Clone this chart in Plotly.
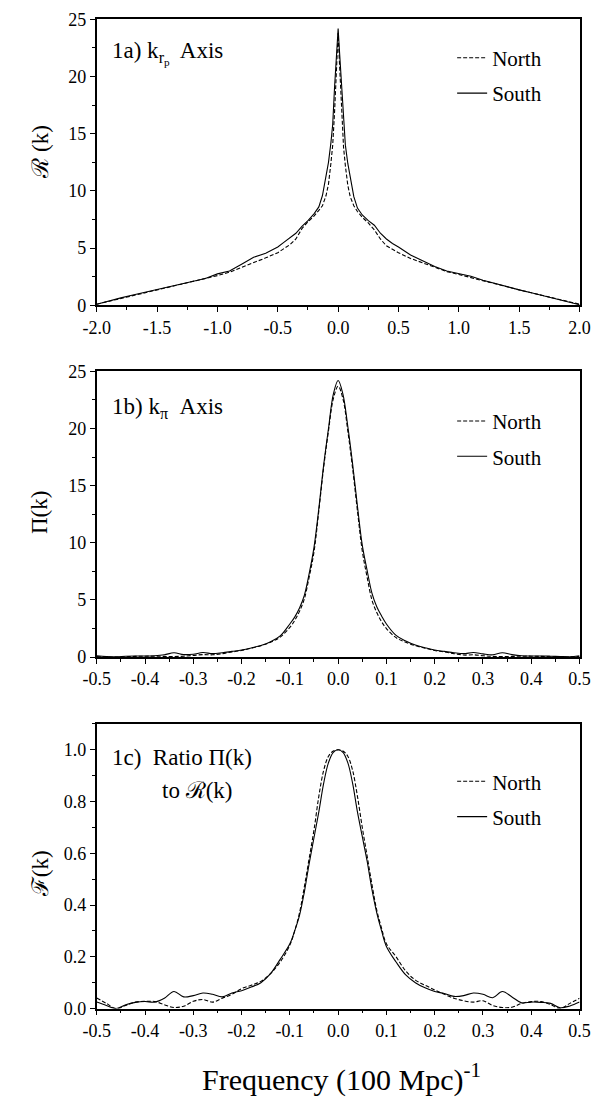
import plotly.graph_objects as go

# ---------------- data ----------------
# Panel 1a: R(k) along k_rp axis
x1 = [-2.0, -1.9, -1.8, -1.7, -1.6, -1.5, -1.4, -1.3, -1.2, -1.1, -1.0, -0.9, -0.8, -0.7, -0.6,
      -0.5, -0.45, -0.4, -0.35, -0.3, -0.25, -0.2, -0.16, -0.13, -0.1, -0.08, -0.06, -0.045,
      -0.03, -0.02, -0.01, 0.0,
      0.01, 0.02, 0.03, 0.045, 0.06, 0.08, 0.1, 0.13, 0.16, 0.2, 0.25, 0.3, 0.35, 0.4, 0.45,
      0.5, 0.6, 0.7, 0.8, 0.9, 1.0, 1.1, 1.2, 1.3, 1.4, 1.5, 1.6, 1.7, 1.8, 1.9, 2.0]
r_north = [0.1, 0.35, 0.6, 0.85, 1.1, 1.35, 1.6, 1.8, 2.05, 2.3, 2.6, 2.9, 3.3, 3.7, 4.15,
           4.6, 4.95, 5.3, 5.8, 6.7, 7.3, 7.8, 8.3, 8.7, 9.6, 10.6, 12.4, 14.0,
           16.8, 19.0, 21.5, 23.8,
           21.4, 18.8, 16.6, 13.8, 12.2, 10.5, 9.5, 8.7, 8.2, 7.7, 7.2, 6.6, 5.8, 5.2, 4.9,
           4.6, 4.1, 3.7, 3.3, 2.95, 2.7, 2.4, 2.15, 1.9, 1.6, 1.35, 1.1, 0.85, 0.6, 0.35, 0.1]
r_south = [0.1, 0.4, 0.65, 0.9, 1.15, 1.4, 1.65, 1.85, 2.1, 2.35, 2.75, 3.0, 3.6, 4.2, 4.55,
           5.1, 5.5, 5.9, 6.3, 6.9, 7.4, 8.0, 8.6, 9.6, 11.5, 12.5, 14.2, 15.8,
           19.0, 20.8, 22.5, 24.2,
           22.4, 20.6, 18.8, 15.6, 14.0, 12.4, 11.3, 9.5, 8.5, 7.9, 7.4, 7.0, 6.3, 5.8, 5.4,
           5.1, 4.4, 3.9, 3.4, 3.0, 2.8, 2.55, 2.2, 1.9, 1.6, 1.35, 1.1, 0.85, 0.6, 0.35, 0.05]

# Panels 1b and 1c share a frequency grid
x2 = [-0.5, -0.48, -0.46, -0.44, -0.42, -0.4, -0.38, -0.36, -0.34, -0.32, -0.3, -0.28, -0.26,
      -0.24, -0.22, -0.2, -0.18, -0.16, -0.14, -0.12, -0.1, -0.09, -0.08, -0.07, -0.06, -0.05,
      -0.04, -0.03, -0.02, -0.01, 0.0,
      0.01, 0.02, 0.03, 0.04, 0.05, 0.06, 0.07, 0.08, 0.09, 0.1, 0.12, 0.14, 0.16, 0.18, 0.2,
      0.22, 0.24, 0.26, 0.28, 0.3, 0.32, 0.34, 0.36, 0.38, 0.4, 0.42, 0.44, 0.46, 0.48, 0.5]

# Panel 1b: Pi(k) along k_pi axis
p_north = [0.05, 0.02, 0.0, 0.03, 0.06, 0.08, 0.08, 0.06, 0.05, 0.08, 0.15, 0.22, 0.2,
           0.3, 0.45, 0.58, 0.78, 1.0, 1.3, 1.75, 2.6, 3.2, 4.0, 5.1, 7.0, 9.2,
           12.8, 16.6, 19.8, 22.6, 23.7,
           22.6, 19.8, 16.5, 12.8, 9.3, 7.0, 5.0, 3.9, 3.1, 2.5, 1.7, 1.3, 1.0, 0.78, 0.58,
           0.45, 0.3, 0.18, 0.2, 0.12, 0.06, 0.05, 0.06, 0.08, 0.08, 0.06, 0.03, 0.0, 0.02, 0.05]
p_south = [0.12, 0.05, 0.02, 0.08, 0.1, 0.1, 0.12, 0.2, 0.38, 0.22, 0.25, 0.4, 0.3,
           0.38, 0.5, 0.62, 0.8, 1.02, 1.35, 1.85, 2.9, 3.5, 4.3, 5.4, 7.3, 9.6,
           13.0, 16.8, 20.0, 23.0, 24.2,
           23.0, 20.2, 16.9, 13.2, 9.8, 7.6, 5.6, 4.4, 3.6, 2.9, 1.9, 1.4, 1.05, 0.82, 0.62,
           0.5, 0.38, 0.3, 0.4, 0.28, 0.2, 0.38, 0.22, 0.12, 0.1, 0.1, 0.08, 0.05, 0.03, 0.12]

# Panel 1c: ratio F(k)
f_north = [0.041, 0.02, 0.0, 0.012, 0.025, 0.028, 0.027, 0.015, 0.004, 0.009, 0.028, 0.035, 0.025,
           0.04, 0.055, 0.077, 0.09, 0.105, 0.135, 0.18, 0.245, 0.3, 0.37, 0.47, 0.58, 0.69,
           0.82, 0.92, 0.975, 0.995, 1.0,
           0.995, 0.975, 0.92, 0.82, 0.7, 0.59, 0.48, 0.38, 0.31, 0.25, 0.2, 0.145, 0.11, 0.09, 0.072,
           0.055, 0.04, 0.03, 0.025, 0.03, 0.012, 0.004, 0.005, 0.02, 0.027, 0.027, 0.015, 0.0, 0.02, 0.04]
f_south = [0.025, 0.012, 0.0, 0.015, 0.024, 0.027, 0.025, 0.04, 0.066, 0.045, 0.05, 0.06, 0.055,
           0.045, 0.06, 0.069, 0.083, 0.1, 0.135, 0.19, 0.25, 0.3, 0.36, 0.45, 0.56, 0.66,
           0.76, 0.87, 0.95, 0.99, 1.0,
           0.99, 0.95, 0.87, 0.76, 0.665, 0.57, 0.46, 0.37, 0.3, 0.24, 0.18, 0.13, 0.1, 0.08, 0.066,
           0.058, 0.047, 0.05, 0.06, 0.055, 0.042, 0.066, 0.045, 0.022, 0.025, 0.024, 0.02, 0.003, 0.01, 0.025]

# tick labels
x1_ticks = [-2.0, -1.5, -1.0, -0.5, 0.0, 0.5, 1.0, 1.5, 2.0]
x1_labels = ["-2.0", "-1.5", "-1.0", "-0.5", "0.0", "0.5", "1.0", "1.5", "2.0"]
x2_ticks = [-0.5, -0.4, -0.3, -0.2, -0.1, 0.0, 0.1, 0.2, 0.3, 0.4, 0.5]
x2_labels = ["-0.5", "-0.4", "-0.3", "-0.2", "-0.1", "0.0", "0.1", "0.2", "0.3", "0.4", "0.5"]
y12_ticks = [0, 5, 10, 15, 20, 25]
y12_labels = ["0", "5", "10", "15", "20", "25"]
y3_ticks = [0.0, 0.2, 0.4, 0.6, 0.8, 1.0]
y3_labels = ["0.0", "0.2", "0.4", "0.6", "0.8", "1.0"]

# ---------------- figure ----------------
# The page body keeps the browser's default 8px margin, so the figure is sized to fit
# the 603x1110 window exactly and positions below are given in window pixels.
OFF = 8
FW, FH = 595, 1094
FONT = "Liberation Serif"

def px_x(p):
    return (p - OFF) / FW

def px_y(p):
    return 1 - (p - OFF) / FH

xdom = [px_x(86), px_x(590)]
ydoms = [[px_y(300.7), px_y(9.3)], [px_y(659), px_y(368)], [px_y(1017), px_y(727)]]

fig = go.Figure()

dash_style = "4px,2px"
panels = [
    (x1, r_north, r_south, "x", "y", "legend"),
    (x2, p_north, p_south, "x2", "y2", "legend2"),
    (x2, f_north, f_south, "x3", "y3", "legend3"),
]
for i, (xx, yn, ys, xa, ya, lg) in enumerate(panels):
    shape = "linear" if i == 0 else "spline"
    fig.add_trace(go.Scatter(x=xx, y=yn, mode="lines", name="North",
                             line=dict(color="black", width=1.1, dash=dash_style, shape=shape),
                             xaxis=xa, yaxis=ya, legend=lg, legendgroup=f"n{i}"))
    fig.add_trace(go.Scatter(x=xx, y=ys, mode="lines", name="South",
                             line=dict(color="black", width=1.1, shape=shape),
                             xaxis=xa, yaxis=ya, legend=lg, legendgroup=f"s{i}"))

tickfont = dict(family=FONT, size=18, color="black")

def main_x(rng, tv, tt, dt_minor, anchor):
    return dict(domain=xdom, range=rng, anchor=anchor, tickmode="array", tickvals=tv, ticktext=tt,
                ticks="outside", ticklen=5, tickwidth=1, tickcolor="black",
                minor=dict(dtick=dt_minor, tick0=0, ticks="outside", ticklen=3, tickcolor="black", tickwidth=1),
                showline=True, linecolor="black", linewidth=1.5, mirror=True,
                showgrid=False, zeroline=False, tickfont=tickfont, fixedrange=True)

def main_y(rng, tv, tt, dt_minor, anchor, dom):
    return dict(domain=dom, range=rng, anchor=anchor, tickmode="array", tickvals=tv, ticktext=tt,
                ticks="outside", ticklen=5, tickwidth=1, tickcolor="black",
                minor=dict(dtick=dt_minor, tick0=0, ticks="outside", ticklen=3, tickcolor="black", tickwidth=1),
                showline=True, linecolor="black", linewidth=1.5, mirror=True,
                showgrid=False, zeroline=False, tickfont=tickfont, fixedrange=True)

def over_x(rng, tv, dt_minor, over, anchor):
    return dict(range=rng, overlaying=over, anchor=anchor, side="top", tickmode="array", tickvals=tv,
                showticklabels=False, ticks="inside", ticklen=4, tickwidth=1, tickcolor="black",
                minor=dict(dtick=dt_minor, tick0=0, ticks="inside", ticklen=2, tickcolor="black", tickwidth=1),
                showline=False, showgrid=False, zeroline=False, fixedrange=True)

def over_y(rng, tv, dt_minor, over, anchor):
    return dict(range=rng, overlaying=over, anchor=anchor, side="right", tickmode="array", tickvals=tv,
                showticklabels=False, ticks="inside", ticklen=4, tickwidth=1, tickcolor="black",
                minor=dict(dtick=dt_minor, tick0=0, ticks="inside", ticklen=2, tickcolor="black", tickwidth=1),
                showline=False, showgrid=False, zeroline=False, fixedrange=True)

r1x = [-2.0, 2.0]
r2x = [-0.5, 0.5]
ry12 = [0, 25]
ry3 = [0, 1.1]

layout = dict(
    width=FW, height=FH, margin=dict(l=0, r=0, t=0, b=0),
    paper_bgcolor="white", plot_bgcolor="white",
    font=dict(family=FONT, color="black"),
    xaxis=main_x(r1x, x1_ticks, x1_labels, 0.25, "y"),
    yaxis=main_y(ry12, y12_ticks, y12_labels, 2.5, "x", ydoms[0]),
    xaxis2=main_x(r2x, x2_ticks, x2_labels, 0.05, "y2"),
    yaxis2=main_y(ry12, y12_ticks, y12_labels, 2.5, "x2", ydoms[1]),
    xaxis3=main_x(r2x, x2_ticks, x2_labels, 0.05, "y3"),
    yaxis3=main_y(ry3, y3_ticks, y3_labels, 0.1, "x3", ydoms[2]),
    xaxis4=over_x(r1x, x1_ticks, 0.25, "x", "y"),
    yaxis4=over_y(ry12, y12_ticks, 2.5, "y", "x"),
    xaxis5=over_x(r2x, x2_ticks, 0.05, "x2", "y2"),
    yaxis5=over_y(ry12, y12_ticks, 2.5, "y2", "x2"),
    xaxis6=over_x(r2x, x2_ticks, 0.05, "x3", "y3"),
    yaxis6=over_y(ry3, y3_ticks, 0.1, "y3", "x3"),
)

legfont = dict(family=FONT, size=21, color="black")
for name, ytop in [("legend", 28), ("legend2", 398), ("legend3", 765)]:
    layout[name] = dict(x=px_x(457), y=px_y(ytop), xanchor="left", yanchor="top",
                        font=legfont, bgcolor="rgba(0,0,0,0)", tracegroupgap=5,
                        traceorder="grouped", itemwidth=30)

fig.update_layout(**layout)
fig.update_layout(showlegend=True)

annfont = dict(family=FONT, size=23, color="black")
dom_x = lambda p: (p - 86) / 504
anns = [
    dict(text="1a) k<sub>r<sub>p</sub></sub>  Axis", xref="x domain", yref="y domain",
         x=dom_x(100), y=(300.7 - 43.5) / 291.4, xanchor="left", yanchor="middle"),
    dict(text="1b) k<sub>π</sub>  Axis", xref="x2 domain", yref="y2 domain",
         x=dom_x(100), y=(659 - 405) / 291, xanchor="left", yanchor="middle"),
    dict(text="1c)  Ratio Π(k)", xref="x3 domain", yref="y3 domain",
         x=dom_x(100), y=(1017 - 761) / 290, xanchor="left", yanchor="middle"),
    dict(text="to ℛ(k)", xref="x3 domain", yref="y3 domain",
         x=dom_x(152), y=(1017 - 795) / 290, xanchor="left", yanchor="middle"),
]
for a in anns:
    fig.add_annotation(showarrow=False, font=annfont, **a)

# y-axis titles
ytitle_font = dict(family=FONT, size=23, color="black")
for txt, yc in [("ℛ (k)", 144), ("Π(k)", 512), ("ℱ(k)", 880)]:
    fig.add_annotation(text=txt, xref="paper", yref="paper", x=px_x(27), y=px_y(yc),
                       xanchor="center", yanchor="middle", textangle=-90, showarrow=False,
                       font=ytitle_font)

# x-axis title
fig.add_annotation(text="Frequency (100 Mpc)<sup>-1</sup>", xref="paper", yref="paper",
                   x=px_x(342), y=px_y(1087), xanchor="center", yanchor="middle",
                   showarrow=False, font=dict(family=FONT, size=30, color="black"))

fig.write_html("out.html", config={"displayModeBar": False})
